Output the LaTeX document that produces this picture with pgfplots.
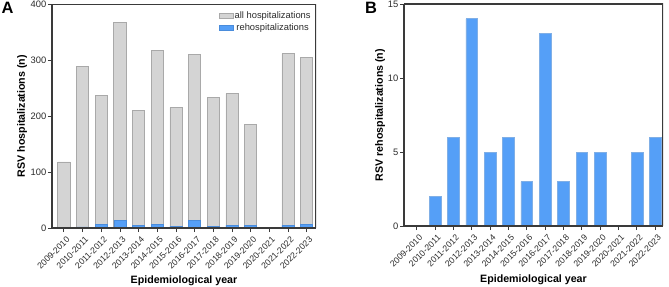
\documentclass[border=0pt]{standalone}
\usepackage{pgfplots}
\pgfplotsset{compat=1.18}
\usepackage{fontspec}
\setmainfont{Liberation Sans}

\definecolor{allgrey}{HTML}{D4D4D4}
\definecolor{alledge}{HTML}{A9A9A9}
\definecolor{rehblue}{HTML}{559FF7}
\definecolor{rehedge}{HTML}{4A8CDB}
\definecolor{axisdark}{HTML}{3A3A3A}
\definecolor{textdark}{HTML}{2A2A2A}

% x = season index (0 = 2009-2010 ... 13 = 2022-2023); seasons with no cases are left out
\pgfplotstableread{
x all
0 118
1 289
2 236
3 367
4 210
5 317
6 215
7 310
8 233
9 240
10 185
12 311
13 305
}\allhosp

\pgfplotstableread{
x reh
1 2
2 6
3 14
4 5
5 6
6 3
7 13
8 3
9 5
10 5
12 5
13 6
}\rehosp

\pgfplotsset{
  seasonaxis/.style={
    scale only axis,
    axis on top,
    axis line style={axisdark, line width=1.1bp},
    axis x line*=bottom, axis y line*=left,
    tick style={axisdark, line width=0.9bp},
    major tick length=4bp,
    tick align=outside,
    ymin=0,
    xtick={0,...,13},
    xticklabels={2009-2010,2010-2011,2011-2012,2012-2013,2013-2014,2014-2015,2015-2016,2016-2017,2017-2018,2018-2019,2019-2020,2020-2021,2021-2022,2022-2023},
    ticklabel style={font=\fontsize{9.4}{10}\selectfont, text=textdark},
    xticklabel style={font=\fontsize{8.7}{10}\selectfont, xshift=2bp, yshift=-2.5bp, rotate=45, anchor=north east, inner sep=1bp},
    yticklabel style={inner sep=1.5bp},
    /pgf/number format/assume math mode=true,
    label style={font=\bfseries\fontsize{10.7}{12}\selectfont, text=black},
    xlabel={Epidemiological year},
    ybar, bar shift=0pt,
    enlarge x limits=false,
  },
}

\begin{document}
\begin{tikzpicture}
\path[use as bounding box] (0,-59bp) rectangle (669bp,228bp);

% Panel A: all hospitalizations with rehospitalizations overlaid
\begin{axis}[seasonaxis,
  at={(52bp,0bp)}, anchor=south west,
  width=264bp, height=224bp,
  xmin=-0.64, xmax=13.5,
  ymax=400, ytick={0,100,200,300,400},
  bar width=0.65,
  xlabel style={at={(axis description cs:0.5,-0.2366)}, anchor=center},
  ylabel={RSV hospitalizations (n)},
  ylabel style={at={(axis description cs:-0.1136,0.5)}, anchor=center},
  legend style={at={(axis description cs:0.985,0.972)}, anchor=north east,
    draw=none, fill=none, inner sep=0pt,
    font=\fontsize{9.4}{10}\selectfont, text=textdark,
    row sep=1.2bp,
    nodes={inner sep=1.2bp}},
  legend image code/.code={\draw[#1] (0bp,-2.6bp) rectangle (14bp,2.6bp);},
]
\addplot[fill=allgrey, draw=alledge, line width=0.8bp] table[x=x, y=all] {\allhosp};
\addlegendentry{all hospitalizations}
\addplot[fill=rehblue, draw=rehedge, line width=0.6bp] table[x=x, y=reh] {\rehosp};
\addlegendentry{rehospitalizations}
\draw[axisdark, line width=1.1bp] (rel axis cs:0,1) -- (rel axis cs:1,1) -- (rel axis cs:1,0);
\end{axis}
\node[anchor=north west, font=\bfseries\fontsize{16.5}{18}\selectfont, inner sep=0pt] at (1.5bp,226bp) {A};

% Panel B: rehospitalizations only
\begin{axis}[seasonaxis,
  at={(404bp,2bp)}, anchor=south west,
  width=259bp, height=222bp,
  xmin=-0.69, xmax=13.42,
  ymax=15, ytick={0,5,10,15},
  bar width=0.64,
  xlabel style={at={(axis description cs:0.5,-0.2432)}, anchor=center},
  ylabel={RSV rehospitalizations (n)},
  ylabel style={at={(axis description cs:-0.0927,0.5)}, anchor=center},
]
\addplot[fill=rehblue, draw=rehedge!70!white, line width=0.6bp] table[x=x, y=reh] {\rehosp};
\draw[axisdark, line width=1.1bp] (rel axis cs:0,1) -- (rel axis cs:1,1) -- (rel axis cs:1,0);
\end{axis}
\node[anchor=north west, font=\bfseries\fontsize{16.5}{18}\selectfont, inner sep=0pt] at (365bp,226bp) {B};
\end{tikzpicture}
\end{document}
